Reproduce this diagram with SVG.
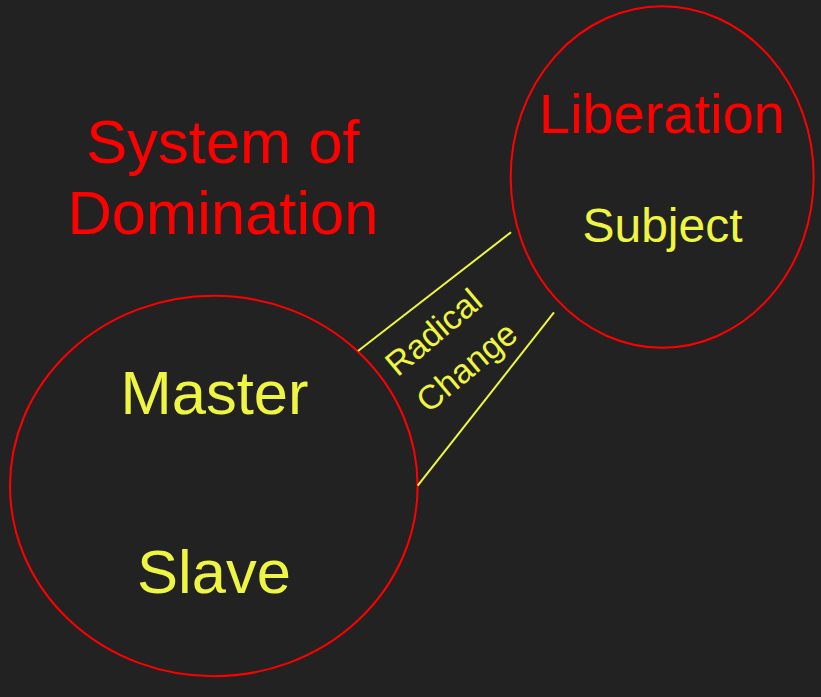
<svg xmlns="http://www.w3.org/2000/svg" width="821" height="697" viewBox="0 0 821 697">
<style>
.ring{fill:none;stroke:#ff0000;stroke-width:2}
.link{stroke:#eef542;stroke-width:2;fill:none}
text{font-family:"Liberation Sans",Arial,sans-serif;text-anchor:middle}
.red{fill:#ff0000}
.yel{fill:#eef542}
</style>
<rect x="0" y="0" width="821" height="697" fill="#222222"/>
<g id="system-title">
<text class="red" font-size="61.5"><tspan x="223" y="163">System of</tspan><tspan x="223" y="234">Domination</tspan></text>
</g>
<g id="domination">
<ellipse class="ring" cx="213.8" cy="486" rx="203.8" ry="190.2"/>
<text class="yel" font-size="61.5" x="214.5" y="414">Master</text>
<text class="yel" font-size="61.5" x="214" y="593">Slave</text>
</g>
<g id="liberation">
<ellipse class="ring" cx="662.2" cy="177" rx="151.5" ry="170.7"/>
<text class="red" font-size="56" x="662" y="133">Liberation</text>
<text class="yel" font-size="48" x="662.5" y="242">Subject</text>
</g>
<g id="connectors">
<line class="link" x1="358" y1="351" x2="511" y2="232.3"/>
<line class="link" x1="417.7" y1="485.7" x2="554" y2="312.3"/>
<text class="yel" font-size="34" transform="translate(441,341) rotate(-40)"><tspan x="0" y="0">Radical</tspan><tspan x="3" y="48">Change</tspan></text>
</g>
</svg>
